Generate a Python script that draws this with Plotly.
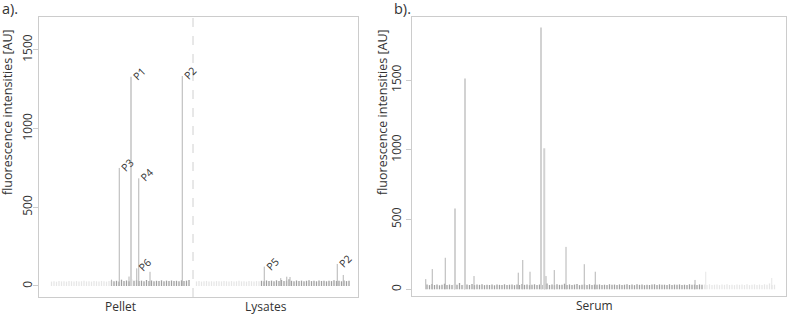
import plotly.graph_objects as go

# ---------------- data ----------------
# Panel a: feature index along x (baseline spots start at given index, step 1)
a_light_left_start = 5
a_light_left = [28, 30, 27, 31, 29, 30, 28, 32, 30, 29, 31, 28, 30, 33, 29, 30, 28, 31, 30, 29, 32, 30, 28, 31]
a_dark_left_start = 29
a_dark_left = [34, 30, 33, 29, 40, 31, 35, 30, 42, 33, 36, 31, 34, 30, 38, 32, 35, 30, 33, 31, 36, 30, 34, 32,
               35, 31, 33, 30, 36, 32, 34, 38]
a_light_right_start = 63
a_light_right = [29, 31, 28, 30, 32, 29, 30, 28, 31, 30, 29, 32, 30, 28, 31, 29, 30, 33, 29, 30, 28, 31, 30, 29,
                 31, 30]
a_dark_right_start = 89
a_dark_right = [33, 30, 35, 31, 34, 30, 36, 32, 38, 31, 34, 42, 33, 30, 35, 31, 34, 30, 33, 36, 31, 34, 30, 35,
                32, 34, 30, 33, 31, 36, 32, 34, 30, 35, 31, 33]

a_peak_pos = [29.0, 32.1, 36.0, 39.1, 39.9, 44.4, 57.3, 90.1, 96.7, 99.1, 100.4, 119.3, 121.7]
a_peak_val = [40, 750, 60, 112, 684, 90, 1334, 123, 50, 59, 57, 140, 70]
a_peak_lab = ["", "P3", "", "P6", "P4", "", "P2", "P5", "", "", "", "P2", ""]
a_big_pos = [36.8]
a_big_val = [1330]
a_big_lab = ["P1"]
a_divider = 61.6
a_groups = ["Pellet", "Lysates"]
a_group_pos = [32.4, 90.8]

# Panel b
b_dark_start = 6
b_dark = [34, 30, 38, 31, 35, 29, 33, 40, 31, 34, 30, 36, 32, 45, 30, 33, 35, 31, 38, 30, 34, 32, 36, 30,
          33, 31, 35, 29, 34, 32, 30, 36, 31, 33, 35, 30, 34, 31, 38, 32, 35, 30, 33, 36, 31, 34, 30, 35,
          42, 31, 34, 30, 36, 32, 33, 40, 30, 35, 31, 34, 38, 30, 33, 35, 31, 36, 30, 34, 32, 35, 31, 33,
          30, 36, 32, 34, 31, 35, 30, 33, 37, 31, 34, 30, 36, 32, 35, 30, 33, 31, 34, 36, 30, 35, 32, 33,
          31, 36, 30, 34, 32, 35, 31, 33, 30, 36, 32, 34, 31, 35, 33]
b_light_start = 117
b_light = [34, 30, 36, 31, 33, 35, 30, 34, 32, 36, 31, 33, 30, 35, 32, 34, 31, 36, 30, 33, 35, 31, 34, 30,
           36, 32, 42, 31, 33]

b_peak_pos = [5.5, 8.1, 13.3, 24.8, 42.5, 44.3, 47.2, 53.6, 56.9, 61.6, 68.9, 73.3, 113.2]
b_peak_val = [73, 145, 226, 95, 119, 210, 126, 95, 138, 304, 180, 126, 67]
b_light_peak_pos = [117.5, 143.9]
b_light_peak_val = [126, 81]
b_big_pos = [17.2, 21.2, 51.6, 52.9]
b_big_val = [580, 1512, 1876, 1011]
b_group = ["Serum"]
b_group_pos = [73.0]

y_ticks = [0, 500, 1000, 1500]
y_title = "fluorescence intensities [AU]"

# ---------------- helpers ----------------
def stems(xs, ys):
    X, Y = [], []
    for x, y in zip(xs, ys):
        X += [x, x, None]
        Y += [0, y, None]
    return X, Y

def seq(start, vals):
    return [start + k for k in range(len(vals))]

W, H = 790, 331
FONT = "Open Sans"
TXT = "#333333"
DARK = "#a0a0a0"
LIGHT = "#e6e6e6"
BIG = "#d2d2d2"
PEAK = "#b4b4b4"
BOX = "#cccccc"

fig = go.Figure()

def add(xs, ys, color, width, xa, ya):
    X, Y = stems(xs, ys)
    fig.add_trace(go.Scatter(x=X, y=Y, mode="lines", line=dict(color=color, width=width),
                             hoverinfo="skip", showlegend=False, xaxis=xa, yaxis=ya))

# panel a
add(seq(a_light_left_start, a_light_left), a_light_left, LIGHT, 1.3, "x", "y")
add(seq(a_light_right_start, a_light_right), a_light_right, LIGHT, 1.3, "x", "y")
add(seq(a_dark_left_start, a_dark_left), a_dark_left, DARK, 1.3, "x", "y")
add(seq(a_dark_right_start, a_dark_right), a_dark_right, DARK, 1.3, "x", "y")
add(a_big_pos, a_big_val, BIG, 2, "x", "y")
add(a_peak_pos, a_peak_val, PEAK, 1, "x", "y")

# panel b
add(seq(b_light_start, b_light), b_light, LIGHT, 1.3, "x2", "y2")
add(b_light_peak_pos, b_light_peak_val, LIGHT, 1, "x2", "y2")
add(seq(b_dark_start, b_dark), b_dark, DARK, 1.3, "x2", "y2")
add(b_big_pos, b_big_val, BIG, 2, "x2", "y2")
add(b_peak_pos, b_peak_val, PEAK, 1, "x2", "y2")

ann = []
for pos, val, lab in list(zip(a_peak_pos, a_peak_val, a_peak_lab)) + list(zip(a_big_pos, a_big_val, a_big_lab)):
    if lab:
        ann.append(dict(x=pos, y=val, xref="x", yref="y", text=lab, showarrow=False, textangle=-45,
                        xanchor="center", yanchor="middle",
                        xshift=8, yshift=3, font=dict(family=FONT, size=10.5, color=TXT)))
for lab, pos in zip(a_groups, a_group_pos):
    ann.append(dict(x=pos, y=(H - 306) / H, xref="x", yref="paper", text=lab, showarrow=False,
                    xanchor="center", yanchor="middle", font=dict(family=FONT, size=12, color=TXT)))
for lab, pos in zip(b_group, b_group_pos):
    ann.append(dict(x=pos, y=(H - 305) / H, xref="x2", yref="paper", text=lab, showarrow=False,
                    xanchor="center", yanchor="middle", font=dict(family=FONT, size=12, color=TXT)))
# y titles
for xp in (8, 383):
    ann.append(dict(x=xp / W, y=(H - 112) / H, xref="paper", yref="paper", text=y_title, showarrow=False,
                    textangle=-90, xanchor="center", yanchor="middle",
                    font=dict(family=FONT, size=12.5, color=TXT)))
# panel letters
ann.append(dict(x=0, y=1.0, xref="paper", yref="paper", text="a).", showarrow=False, xanchor="left",
                yanchor="top", yshift=3, font=dict(family=FONT, size=14.5, color=TXT)))
ann.append(dict(x=392 / W, y=1.0, xref="paper", yref="paper", text="b).", showarrow=False, xanchor="left",
                yanchor="top", yshift=3, font=dict(family=FONT, size=14.5, color=TXT)))

axis_common = dict(showgrid=False, zeroline=False, showline=True, mirror=True, linecolor=BOX, linewidth=1,
                   automargin=False)
yaxis_common = dict(axis_common, tickvals=y_ticks, ticks="outside", ticklen=5, tickcolor=BOX,
                    tickangle=-90, tickfont=dict(family=FONT, size=12, color=TXT))

fig.update_layout(
    template="none",
    width=W, height=H, margin=dict(l=0, r=0, t=0, b=0, pad=0),
    paper_bgcolor="white", plot_bgcolor="white",
    xaxis=dict(axis_common, domain=[39 / W, 358 / W], range=[0, 127.6], showticklabels=False, ticks="",
               anchor="y"),
    yaxis=dict(yaxis_common, domain=[34 / H, 314 / H], range=[-70, 1709], anchor="x",
               ticklabelstandoff=-4),
    xaxis2=dict(axis_common, domain=[412 / W, 786 / W], range=[0, 149.6], showticklabels=False, ticks="",
                anchor="y2"),
    yaxis2=dict(yaxis_common, domain=[35 / H, 314 / H], range=[-48, 1952], anchor="x2"),
    annotations=ann,
    shapes=[dict(type="line", xref="x", yref="paper", x0=a_divider, x1=a_divider, y0=34 / H, y1=314 / H,
                 line=dict(color="#d0d0d0", width=1, dash="dash"))],
)

fig.write_html("out.html", config={"displayModeBar": False},
               post_script="document.body.style.margin='0';")
